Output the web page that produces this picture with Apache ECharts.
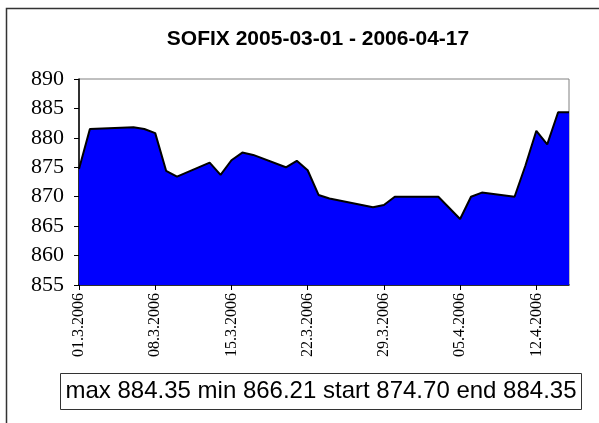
<!DOCTYPE html>
<html>
<head>
<meta charset="utf-8">
<title>SOFIX</title>
<script src="https://cdn.jsdelivr.net/npm/echarts@6/dist/echarts.min.js"></script>
<style>
  html, body { margin: 0; padding: 0; background: #fff; }
  #chart { width: 599px; height: 423px; }
</style>
</head>
<body>
<div id="chart"></div>
<script>
// ===== data =====
const firstDay = '2006-03-01';
const dayCount = 46; // calendar days shown on the axis (01.3 .. 15.4)

const tradeDates = [
  '2006-03-01', '2006-03-02', '2006-03-06', '2006-03-07', '2006-03-08',
  '2006-03-09', '2006-03-10', '2006-03-13', '2006-03-14', '2006-03-15',
  '2006-03-16', '2006-03-17', '2006-03-20', '2006-03-21', '2006-03-22',
  '2006-03-23', '2006-03-24', '2006-03-28', '2006-03-29', '2006-03-30',
  '2006-03-31', '2006-04-03', '2006-04-05', '2006-04-06', '2006-04-07',
  '2006-04-10', '2006-04-11', '2006-04-12', '2006-04-13', '2006-04-14',
  '2006-04-15'
];
const closeValues = [
  874.70, 881.5, 881.8, 881.5, 880.8,
  874.4, 873.4, 875.8, 873.7, 876.2,
  877.5, 877.1, 875.0, 876.1, 874.5,
  870.3, 869.7, 868.2, 868.6, 870.0,
  870.0, 870.0, 866.21, 870.0, 870.7,
  870.0, 875.3, 881.2, 878.9, 884.35,
  884.35
];

const yTicks = [855, 860, 865, 870, 875, 880, 885, 890];
const titleText = 'SOFIX 2005-03-01 - 2006-04-17';
const summaryText = 'max 884.35 min 866.21 start 874.70 end 884.35';

// ===== build the calendar categories and map trading days onto them =====
const pad = (n) => (n < 10 ? '0' + n : '' + n);
const start = new Date(firstDay + 'T00:00:00Z');
const dayKeys = [];
const dayLabels = [];
for (let i = 0; i < dayCount; i++) {
  const d = new Date(start.getTime() + i * 86400000);
  dayKeys.push(d.getUTCFullYear() + '-' + pad(d.getUTCMonth() + 1) + '-' + pad(d.getUTCDate()));
  dayLabels.push(pad(d.getUTCDate()) + '.' + (d.getUTCMonth() + 1) + '.' + d.getUTCFullYear());
}
const seriesData = dayKeys.map((k) => {
  const idx = tradeDates.indexOf(k);
  return idx >= 0 ? closeValues[idx] : null;
});

const chart = echarts.init(document.getElementById('chart'), null, { renderer: 'canvas' });

const option = {
  backgroundColor: '#ffffff',
  animation: false,
  title: {
    text: titleText,
    left: 313,
    top: 24,
    textAlign: 'center',
    textStyle: {
      fontFamily: 'Liberation Sans, Arial, sans-serif',
      fontWeight: 'bold',
      fontSize: 21,
      color: '#000'
    }
  },
  grid: {
    left: 79,
    right: 30,
    top: 79,
    bottom: 138,
    show: true,
    borderColor: '#808080',
    borderWidth: 1,
    backgroundColor: '#ffffff'
  },
  xAxis: {
    type: 'category',
    boundaryGap: false,
    data: dayLabels,
    axisLine: { lineStyle: { color: '#000', width: 1.5 } },
    axisTick: { show: true, interval: 6, length: 5, lineStyle: { color: '#000' } },
    axisLabel: {
      interval: 6,
      rotate: 90,
      margin: 8,
      fontFamily: 'Liberation Serif, Times New Roman, serif',
      fontSize: 16,
      color: '#000'
    },
    splitLine: { show: false }
  },
  yAxis: {
    type: 'value',
    min: yTicks[0],
    max: yTicks[yTicks.length - 1],
    interval: 5,
    axisLine: { show: true, lineStyle: { color: '#000', width: 1.5 } },
    axisTick: { show: true, length: 5, lineStyle: { color: '#000' } },
    axisLabel: {
      margin: 15,
      fontFamily: 'Liberation Serif, Times New Roman, serif',
      fontSize: 22,
      color: '#000'
    },
    splitLine: { show: false }
  },
  series: [
    {
      name: 'SOFIX',
      type: 'line',
      data: seriesData,
      connectNulls: true,
      showSymbol: false,
      symbol: 'none',
      lineStyle: { color: '#000', width: 2 },
      areaStyle: { color: '#0000ff', opacity: 1 },
      z: 2
    }
  ],
  graphic: [
    {
      // outer chart frame, runs off the right and bottom edges
      type: 'rect',
      z: -10,
      shape: { x: 6.5, y: 8.5, width: 700, height: 600 },
      style: { fill: null, stroke: '#333', lineWidth: 1.5 }
    },
    {
      type: 'rect',
      shape: { x: 60.5, y: 373.5, width: 521, height: 36 },
      style: { fill: '#fff', stroke: '#333', lineWidth: 1 }
    },
    {
      type: 'text',
      x: 321,
      y: 391,
      style: {
        text: summaryText,
        fontFamily: 'Liberation Sans, Arial, sans-serif',
        fontSize: 24,
        fill: '#000',
        align: 'center',
        verticalAlign: 'middle'
      }
    }
  ]
};

chart.setOption(option);
window.addEventListener('resize', () => {
  chart.resize();
});
</script>
</body>
</html>
